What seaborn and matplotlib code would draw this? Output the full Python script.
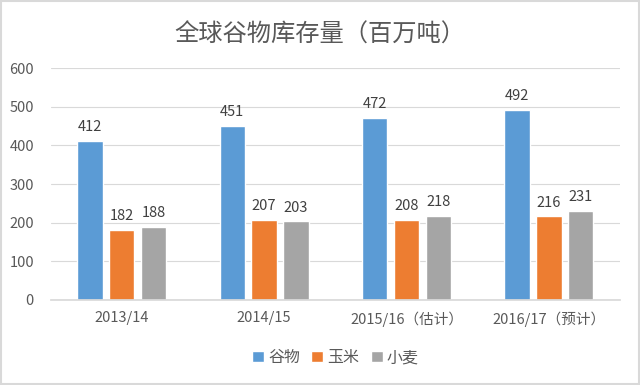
import matplotlib
matplotlib.use("Agg")
import matplotlib.pyplot as plt
import seaborn as sns
import pandas as pd
from matplotlib.patches import Rectangle

years = ["2013/14", "2014/15", "2015/16（估计）", "2016/17（预计）"]
series = ["谷物", "玉米", "小麦"]
grain = [412, 451, 472, 492]
corn = [182, 207, 208, 216]
wheat = [188, 203, 218, 231]
colors = ["#5B9BD5", "#ED7D31", "#A5A5A5"]

df = pd.DataFrame({
    "year": years * 3,
    "kind": [series[0]] * 4 + [series[1]] * 4 + [series[2]] * 4,
    "value": grain + corn + wheat,
})

sns.set_theme(style="white")
plt.rcParams['font.family'] = ['Noto Sans CJK SC', 'DejaVu Sans']

fig = plt.figure(figsize=(6.4, 3.85), dpi=100)
ax = fig.add_axes([0.079, 0.221, 0.89, 0.602])

sns.barplot(data=df, x="year", y="value", hue="kind", palette=colors,
            saturation=1, width=0.67, gap=0.2, ax=ax, legend=True)

for c in ax.containers:
    ax.bar_label(c, fmt="%d", padding=5, fontsize=10.5, color="#404040")

ax.set_ylim(0, 600)
ax.set_yticks(range(0, 601, 100))
ax.yaxis.grid(True, color="#D9D9D9", linewidth=0.8)
ax.set_axisbelow(True)
for s in ["top", "right", "left"]:
    ax.spines[s].set_visible(False)
ax.spines["bottom"].set_color("#D9D9D9")
ax.set_xlabel("")
ax.set_ylabel("")
ax.tick_params(axis="both", length=0, labelsize=10.5, labelcolor="#595959")
ax.tick_params(axis="x", pad=8)
ax.tick_params(axis="y", pad=12)

fig.suptitle("全球谷物库存量（百万吨）", y=0.945, fontsize=17.5, color="#595959",
             fontweight="light")

ax.legend(loc="upper center", bbox_to_anchor=(0.5, -0.15), ncol=3, frameon=False,
          fontsize=11.5, labelcolor="#595959", handlelength=0.75, handleheight=0.75,
          handletextpad=0.25, columnspacing=0.7)

fig.patches.append(Rectangle((0.002, 0.003), 0.996, 0.994, transform=fig.transFigure,
                             fill=False, edgecolor="#D9D9D9", linewidth=1.5))

fig.savefig("out.png", dpi=100)
